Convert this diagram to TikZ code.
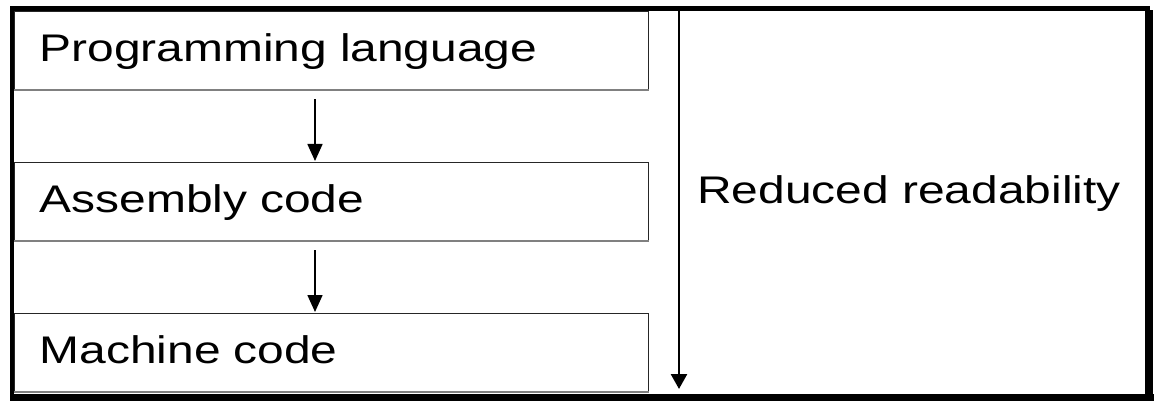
\documentclass[tikz,border=0pt]{standalone}
\usepackage{fontspec}
\setmainfont{Liberation Sans}[FakeStretch=1.245]
\usetikzlibrary{arrows.meta}
\begin{document}
\begin{tikzpicture}[x=1pt,y=-1pt,
  levelbox/.style={draw=black!85, line width=1.2pt, anchor=north west,
    minimum width=634pt, minimum height=78pt, inner xsep=25pt, inner ysep=0pt,
    text width=584pt, align=left, text height=22pt, text depth=0pt,
    font=\fontsize{38.5}{40}\selectfont},
  baseline edge/.style={draw=black!50, line width=2.2pt},
  steparrow/.style={line width=1.6pt, -{Triangle[width=15pt,length=17pt]}},
  trendarrow/.style={line width=2.6pt, -{Triangle[width=16pt,length=15pt]}},
  caption/.style={anchor=base west, inner sep=0pt, font=\fontsize{38.5}{40}\selectfont}]
\useasboundingbox (0,0) rectangle (1154,401);
\fill[white] (0,0) rectangle (1154,401);

% the three representation levels
\node[levelbox] (prog) at (14,11) {Programming language};
\node[levelbox] (asm) at (14,162) {Assembly code};
\node[levelbox] (mach) at (14,313) {Machine code};
\foreach \b in {prog,asm,mach}
  \draw[baseline edge] (\b.south west) -- (\b.south east);

% translation steps between levels
\draw[steparrow] ([xshift=301pt,yshift=-9pt]prog.south west) -- ([xshift=301pt,yshift=1pt]asm.north west);
\draw[steparrow] ([xshift=301pt,yshift=-9pt]asm.south west) -- ([xshift=301pt,yshift=1pt]mach.north west);

% readability trend
\coordinate (trendtop) at (679,11);
\coordinate (trendend) at (679,389);
\draw[trendarrow] (trendtop) -- (trendend);
\node[caption] (trend) at (697,203) {Reduced readability};

% outer frame, heavier on the right and bottom
\fill[black] (10,6) rectangle (1150,11);
\fill[black] (10,6) rectangle (14,401);
\fill[black] (1145,10) rectangle (1153,401);
\fill[black] (10,394) rectangle (1154,401);
\end{tikzpicture}
\end{document}
